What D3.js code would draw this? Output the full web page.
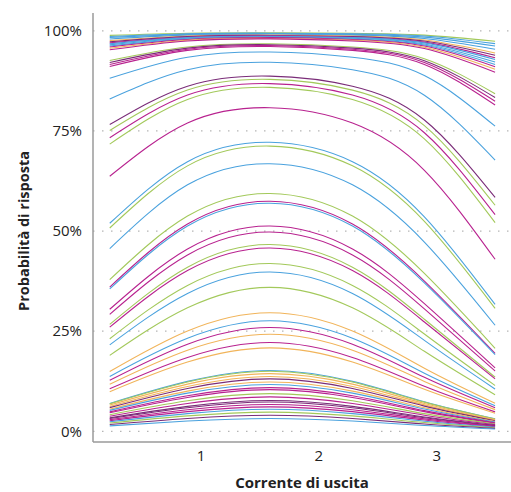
<!DOCTYPE html>
<html>
<head>
<meta charset="utf-8">
<script src="https://cdn.jsdelivr.net/npm/d3@7"></script>
<style>
  body { margin: 0; background: #fff; }
  svg text { font-family: "Open Sans", "Noto Sans", sans-serif; fill: #222; }
  .axis-title { font-weight: 700; font-size: 15px; }
  .tick text { font-size: 15px; }
</style>
</head>
<body>
<div id="chart"></div>
<script>
// Output current values where each curve was read
const xValues = [0.23, 0.89, 1.59, 2.29, 2.9, 3.5];
const xTicks = [1, 2, 3];
const yTicks = [0, 25, 50, 75, 100];

const palette = {
    blu: "#4aa2de",
    verde: "#a3c95b",
    magenta: "#b8228f",
    viola: "#7a2c78",
    arancio: "#f1b45a"
};

// response probability (%) for each curve, one entry per xValues
const topColors = ["verde", "blu", "blu", "blu", "arancio", "viola", "magenta",
    "blu", "blu", "blu", "magenta", "arancio", "magenta"];
const topValues = [
    [98.86, 99.40, 99.52, 99.40, 98.93, 97.39],
    [98.60, 99.26, 99.41, 99.26, 98.69, 96.80],
    [98.33, 99.12, 99.30, 99.12, 98.43, 96.19],
    [97.97, 98.92, 99.14, 98.92, 98.09, 95.39],
    [97.55, 98.70, 98.96, 98.70, 97.70, 94.48],
    [97.27, 98.55, 98.85, 98.55, 97.44, 93.88],
    [97.00, 98.40, 98.73, 98.40, 97.18, 93.28],
    [96.79, 98.29, 98.63, 98.29, 96.98, 92.82],
    [96.50, 98.13, 98.50, 98.13, 96.71, 92.20],
    [96.21, 97.98, 98.40, 97.98, 96.44, 91.60],
    [95.95, 97.83, 98.30, 97.83, 96.19, 91.05],
    [95.63, 97.66, 98.10, 97.66, 95.89, 90.38],
    [95.28, 97.47, 97.98, 97.47, 95.57, 89.66]
];

const upperColors = ["verde", "viola", "magenta", "magenta", "blu", "blu",
    "viola", "verde", "magenta", "verde", "magenta"];
const upperValues = [
    [92.60, 95.97, 96.77, 95.97, 93.02, 84.29],
    [92.10, 95.69, 96.54, 95.69, 92.55, 83.34],
    [91.60, 95.41, 96.32, 95.41, 92.08, 82.40],
    [91.10, 95.12, 96.08, 95.12, 91.60, 81.46],
    [88.16, 93.42, 94.70, 93.42, 88.83, 76.19],
    [83.00, 90.30, 92.14, 90.30, 83.90, 67.72],
    [76.59, 86.18, 88.70, 86.18, 77.73, 58.40],
    [75.12, 85.20, 87.87, 85.20, 76.31, 56.44],
    [73.30, 83.96, 86.82, 83.96, 74.55, 54.09],
    [71.71, 82.85, 85.88, 82.85, 73.01, 52.10],
    [63.69, 76.98, 80.80, 76.98, 65.18, 42.95]
];

const middleColors = ["blu", "verde", "blu", "verde", "magenta", "blu", "magenta",
    "magenta", "verde", "magenta", "verde", "blu", "verde", "arancio", "blu",
    "magenta", "arancio", "magenta", "arancio"];
const middleValues = [
    [51.95, 67.33, 72.17, 67.33, 53.57, 31.69],
    [50.77, 66.28, 71.22, 66.28, 52.40, 30.68],
    [45.64, 61.54, 66.82, 61.54, 47.25, 26.48],
    [37.87, 53.74, 59.39, 53.74, 39.41, 20.73],
    [36.01, 51.75, 57.44, 51.75, 37.52, 19.45],
    [35.55, 51.25, 56.95, 51.25, 37.05, 19.14],
    [30.47, 45.51, 51.25, 45.51, 31.87, 15.83],
    [29.21, 44.03, 49.75, 44.03, 30.58, 15.05],
    [26.70, 40.97, 46.63, 40.97, 27.99, 13.52],
    [26.02, 40.13, 45.76, 40.13, 27.29, 13.11],
    [23.11, 36.43, 41.90, 36.43, 24.29, 11.43],
    [21.58, 34.41, 39.77, 34.41, 22.71, 10.56],
    [18.95, 30.83, 35.94, 30.83, 19.97, 9.12],
    [14.92, 25.05, 29.61, 25.05, 15.76, 7.00],
    [13.70, 23.23, 27.59, 23.23, 14.49, 6.38],
    [12.73, 21.75, 25.92, 21.75, 13.47, 5.89],
    [11.76, 20.26, 24.23, 20.26, 12.45, 5.41],
    [10.61, 18.45, 22.17, 18.45, 11.24, 4.85],
    [9.89, 17.29, 20.83, 17.29, 10.48, 4.50]
];

const lowerColors = ["blu", "verde", "arancio", "arancio", "viola", "arancio", "blu",
    "magenta", "magenta", "verde", "magenta", "viola", "viola", "magenta", "magenta",
    "blu", "verde", "viola", "blu"];
const lowerValues = [
    [6.95, 12.47, 15.20, 12.47, 7.39, 3.11],
    [6.85, 12.30, 15.00, 12.30, 7.28, 3.06],
    [6.55, 11.79, 14.40, 11.79, 6.96, 2.92],
    [6.21, 11.20, 13.70, 11.20, 6.60, 2.76],
    [5.91, 10.70, 13.10, 10.70, 6.29, 2.63],
    [5.52, 10.03, 12.30, 10.03, 5.87, 2.45],
    [5.23, 9.53, 11.70, 9.53, 5.57, 2.32],
    [4.85, 8.86, 10.90, 8.86, 5.16, 2.14],
    [4.62, 8.44, 10.40, 8.44, 4.91, 2.03],
    [4.15, 7.62, 9.40, 7.62, 4.41, 1.82],
    [3.78, 6.95, 8.60, 6.95, 4.02, 1.66],
    [3.36, 6.22, 7.70, 6.22, 3.58, 1.47],
    [3.18, 5.89, 7.30, 5.89, 3.39, 1.39],
    [2.91, 5.40, 6.70, 5.40, 3.10, 1.27],
    [2.64, 4.91, 6.10, 4.91, 2.81, 1.15],
    [2.37, 4.42, 5.50, 4.42, 2.52, 1.03],
    [2.06, 3.85, 4.80, 3.85, 2.19, 0.89],
    [1.71, 3.20, 4.00, 3.20, 1.82, 0.74],
    [1.36, 2.56, 3.20, 2.56, 1.45, 0.59]
];

// gather everything into one list of curves
const curves = [];
[[topColors, topValues], [upperColors, upperValues],
 [middleColors, middleValues], [lowerColors, lowerValues]].forEach(([cols, vals]) => {
    vals.forEach((v, i) => {
        curves.push({ color: palette[cols[i]], points: v.map((p, j) => [xValues[j], p]) });
    });
});

const width = 511, height = 492;
const plot = { left: 93, right: 511, top: 13, bottom: 442 };

const x = d3.scaleLinear().domain([0.088, 3.635]).range([plot.left, plot.right]);
const y = d3.scaleLinear().domain([-2.67, 104.45]).range([plot.bottom, plot.top]);

const svg = d3.select("#chart").append("svg")
    .attr("width", width)
    .attr("height", height);

// dotted horizontal gridlines
svg.append("g")
    .selectAll("line")
    .data(yTicks)
    .join("line")
    .attr("x1", plot.left)
    .attr("x2", plot.right)
    .attr("y1", d => y(d))
    .attr("y2", d => y(d))
    .attr("stroke", "#b5b5b5")
    .attr("stroke-width", 1.2)
    .attr("stroke-dasharray", "1.5,7.5");

const line = d3.line()
    .x(d => x(d[0]))
    .y(d => y(d[1]))
    .curve(d3.curveNatural);

svg.append("g")
    .selectAll("path")
    .data(curves)
    .join("path")
    .attr("d", d => line(d.points))
    .attr("fill", "none")
    .attr("stroke", d => d.color)
    .attr("stroke-width", 1.1);

// axes
const yAxis = d3.axisLeft(y)
    .tickValues(yTicks)
    .tickSize(0)
    .tickPadding(11)
    .tickFormat(d => d + "%");

svg.append("g")
    .attr("transform", `translate(${plot.left},0)`)
    .call(yAxis)
    .call(g => g.select(".domain").remove());

const xAxis = d3.axisBottom(x)
    .tickValues(xTicks)
    .tickSize(0)
    .tickPadding(8)
    .tickFormat(d3.format("d"));

svg.append("g")
    .attr("transform", `translate(0,${plot.bottom})`)
    .call(xAxis)
    .call(g => g.select(".domain").remove());

svg.append("line")
    .attr("x1", plot.left).attr("x2", plot.left)
    .attr("y1", plot.top).attr("y2", plot.bottom)
    .attr("stroke", "#9a9a9a").attr("stroke-width", 1.5);

svg.append("line")
    .attr("x1", plot.left).attr("x2", plot.right)
    .attr("y1", plot.bottom).attr("y2", plot.bottom)
    .attr("stroke", "#9a9a9a").attr("stroke-width", 1.5);

// axis titles
svg.append("text")
    .attr("class", "axis-title")
    .attr("x", 302)
    .attr("y", 488)
    .attr("text-anchor", "middle")
    .text("Corrente di uscita");

svg.append("text")
    .attr("class", "axis-title")
    .style("font-size", "14.5px")
    .attr("transform", "translate(29,231) rotate(-90)")
    .attr("text-anchor", "middle")
    .text("Probabilità di risposta");
</script>
</body>
</html>
